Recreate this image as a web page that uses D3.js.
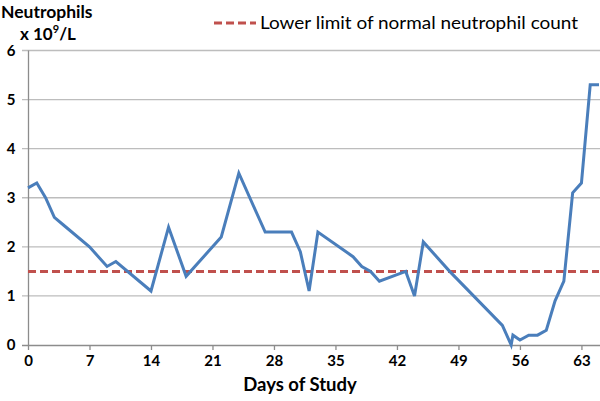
<!DOCTYPE html>
<html><head><meta charset="utf-8">
<script src="https://cdn.jsdelivr.net/npm/d3@7"></script>
<style>body{margin:0;background:#fff}svg{display:block}text{font-family:Lato,"Open Sans",sans-serif}</style>
</head><body><svg id="c" width="600" height="401"></svg>
<script>
const days =   [0,1,2,3,4,7,9,10,14,16,18,22,24,27,30,31,32,33,37,38,39,40,43,44,45,48,54,55,55.2,56,57,58,59,60,61,62,63,64,65];
const values = [3.2,3.3,3.0,2.6,2.45,2.0,1.6,1.7,1.1,2.4,1.4,2.2,3.5,2.3,2.3,1.9,1.1,2.3,1.8,1.6,1.5,1.3,1.5,1.0,2.1,1.5,0.4,0.0,0.2,0.1,0.2,0.2,0.3,0.9,1.3,3.1,3.3,5.3,5.3];
const lowerLimit = 1.5;
const xTicks = [0,7,14,21,28,35,42,49,56,63];
const yTicks = [0,1,2,3,4,5,6];
const legendLabel = "Lower limit of normal neutrophil count";
const xTitle = "Days of Study";
const yTitle1 = "Neutrophils";

const svg = d3.select("#c");
const x = d3.scaleLinear().domain([0,65]).range([28,599]);
const y = d3.scaleLinear().domain([0,6]).range([345,50.5]);

// gridlines
svg.append("g").selectAll("line").data(yTicks.filter(d=>d>0)).join("line")
  .attr("x1",22).attr("x2",600).attr("y1",d=>y(d)).attr("y2",d=>y(d))
  .attr("stroke","#bdbdbd").attr("stroke-width",1.3);
// y labels
svg.append("g").selectAll("text").data(yTicks).join("text")
  .attr("x",11).attr("y",d=>y(d)).attr("dy","0.36em").attr("text-anchor","middle")
  .attr("font-size",15).attr("font-weight","bold").attr("fill","#000").text(d=>d);
// y axis line
svg.append("line").attr("x1",28.5).attr("x2",28.5).attr("y1",y(6)).attr("y2",y(0))
  .attr("stroke","#8c8c8c").attr("stroke-width",1.3);
// x axis
const xa = svg.append("g").attr("transform",`translate(0,${y(0)})`)
  .call(d3.axisBottom(x).tickValues(xTicks).tickSize(5).tickPadding(5).tickSizeOuter(0));
xa.select(".domain").attr("stroke","#8c8c8c").attr("stroke-width",1.3).attr("d",`M22,0.5H600`);
xa.selectAll(".tick line").attr("stroke","#8c8c8c").attr("stroke-width",1.3);
xa.selectAll(".tick text").attr("font-size",15).attr("font-weight","bold").attr("fill","#000")
  .attr("font-family","Lato,'Open Sans',sans-serif");

// lower limit line
svg.append("line").attr("x1",x(0)).attr("x2",599).attr("y1",y(lowerLimit)).attr("y2",y(lowerLimit))
  .attr("stroke","#c0504d").attr("stroke-width",3).attr("stroke-dasharray","8,4");

// data line
const pts = days.map((d,i)=>[d,values[i]]);
svg.append("path").datum(pts)
  .attr("d",d3.line().x(d=>x(d[0])).y(d=>y(d[1])))
  .attr("fill","none").attr("stroke","#4a7ebb").attr("stroke-width",3).attr("stroke-linejoin","miter");

// titles
svg.append("text").attr("x",1).attr("y",18).attr("font-size",17.5).attr("font-weight","bold").text(yTitle1);
const t2 = svg.append("text").attr("x",20).attr("y",40).attr("font-size",17).attr("font-weight","bold");
t2.append("tspan").text("x 10");
t2.append("tspan").attr("font-size",11).attr("dy",-7).text("9");
t2.append("tspan").attr("dy",7).text("/L");
svg.append("text").attr("x",300).attr("y",391).attr("text-anchor","middle")
  .attr("font-size",18.5).attr("font-weight","bold").text(xTitle);

// legend
svg.append("line").attr("x1",214).attr("x2",256).attr("y1",23).attr("y2",23)
  .attr("stroke","#c0504d").attr("stroke-width",3).attr("stroke-dasharray","8,4");
svg.append("text").attr("x",260).attr("y",29).attr("font-size",17).attr("fill","#000")
  .attr("textLength",318).attr("lengthAdjust","spacingAndGlyphs").text(legendLabel);
</script></body></html>
